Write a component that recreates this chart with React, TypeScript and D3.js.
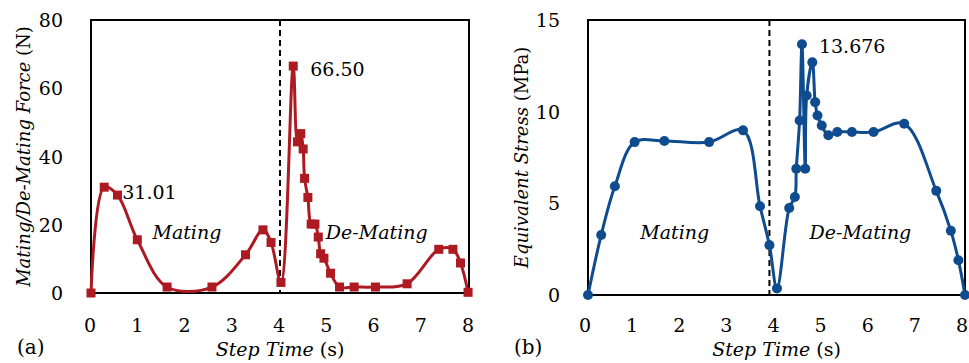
import React from "react";
import * as d3 from "d3";

// ---- Data (a): Mating / De-Mating force (N) vs step time (s)
const forceTime = [0, 0.28, 0.56, 0.98, 1.61, 2.56, 3.27, 3.64, 3.81, 4.02, 4.28, 4.37, 4.44, 4.49, 4.52, 4.59, 4.66, 4.74, 4.81, 4.86, 4.93, 5.07, 5.26, 5.57, 6.02, 6.69, 7.36, 7.66, 7.82, 7.98];
const forceValue = [0, 31.01, 28.7, 15.6, 1.75, 1.75, 11.2, 18.5, 14.8, 3.1, 66.5, 44.3, 46.7, 42.2, 33.6, 28.0, 20.2, 20.2, 16.4, 11.5, 10.2, 5.8, 1.75, 1.75, 1.75, 2.7, 12.8, 12.8, 8.8, 0.2];

// ---- Data (b): Equivalent stress (MPa) vs step time (s)
const stressTime = [0, 0.28, 0.57, 0.99, 1.62, 2.57, 3.29, 3.65, 3.85, 4.01, 4.27, 4.39, 4.42, 4.49, 4.54, 4.61, 4.64, 4.76, 4.82, 4.87, 4.96, 5.1, 5.29, 5.6, 6.06, 6.71, 7.39, 7.7, 7.86, 8.0];
const stressValue = [0, 3.27, 5.93, 8.34, 8.4, 8.34, 8.98, 4.84, 2.72, 0.36, 4.75, 5.35, 6.89, 9.52, 13.676, 6.89, 10.88, 12.69, 10.52, 9.79, 9.25, 8.71, 8.89, 8.89, 8.89, 9.34, 5.68, 3.5, 1.9, 0];

const xTicks = [0, 1, 2, 3, 4, 5, 6, 7, 8];
const forceTicks = [0, 20, 40, 60, 80];
const stressTicks = [0, 5, 10, 15];

const FONT = "DejaVu Serif";
const FS = 19;
const RED = "#ad1a22";
const BLUE = "#0e4b8f";

type PanelProps = {
  left: number;
  right: number;
  top: number;
  bottom: number;
  xs: number[];
  ys: number[];
  yMax: number;
  yTicks: number[];
  color: string;
  marker: "square" | "circle";
  dividerX: number;
  yTitleItalic: string;
  yTitleUnit: string;
  yTitleX: number;
  tickRight: number;
  xTickShift: number;
  panelTag: string;
  tagX: number;
  peakLabel: string;
  peakIndex: number;
  peakDx: number;
  peakDy: number;
  secondLabel?: string;
  secondIndex?: number;
  secondDx?: number;
  secondDy?: number;
  matingX: number;
  deMatingX: number;
  regionY: number;
};

function Panel(p: PanelProps) {
  const x = d3.scaleLinear().domain([0, 8]).range([p.left, p.right]);
  const y = d3.scaleLinear().domain([0, p.yMax]).range([p.bottom, p.top]);
  const pts = p.xs.map((t, i) => [t, p.ys[i]] as [number, number]);
  const line = d3
    .line<[number, number]>()
    .x((d) => x(d[0]))
    .y((d) => y(d[1]))
    .curve(d3.curveCatmullRom.alpha(0.5));
  const mid = (p.top + p.bottom) / 2;
  return (
    <g fontFamily={FONT} fontSize={FS}>
      <rect
        x={p.left}
        y={p.top}
        width={p.right - p.left}
        height={p.bottom - p.top}
        fill="white"
        stroke="black"
        strokeWidth={2}
      />
      <line
        x1={x(p.dividerX)}
        x2={x(p.dividerX)}
        y1={p.top}
        y2={p.bottom}
        stroke="black"
        strokeWidth={2}
        strokeDasharray="6,4"
      />
      <path d={line(pts) || ""} fill="none" stroke={p.color} strokeWidth={3} />
      {pts.map((d, i) =>
        p.marker === "square" ? (
          <rect key={i} x={x(d[0]) - 4.5} y={y(d[1]) - 4.5} width={9} height={9} fill={p.color} />
        ) : (
          <circle key={i} cx={x(d[0])} cy={y(d[1])} r={5} fill={p.color} />
        )
      )}
      {p.yTicks.map((t) => (
        <text key={t} x={p.tickRight} y={y(t) + 7} textAnchor="end">
          {t}
        </text>
      ))}
      {xTicks.map((t) => (
        <text key={t} x={x(t) + p.xTickShift} y={332} textAnchor="middle">
          {t}
        </text>
      ))}
      <text x={(p.left + p.right) / 2} y={356} textAnchor="middle">
        <tspan fontStyle="italic">Step Time</tspan> (s)
      </text>
      <text
        transform={`translate(${p.yTitleX},${mid}) rotate(-90)`}
        textAnchor="middle"
        fontSize={18}
      >
        <tspan fontStyle="italic">{p.yTitleItalic}</tspan> {p.yTitleUnit}
      </text>
      <text x={p.tagX} y={354} fontSize={20}>
        {p.panelTag}
      </text>
      <text x={x(p.xs[p.peakIndex]) + p.peakDx} y={y(p.ys[p.peakIndex]) + p.peakDy}>
        {p.peakLabel}
      </text>
      {p.secondLabel && p.secondIndex !== undefined ? (
        <text
          x={x(p.xs[p.secondIndex]) + (p.secondDx || 0)}
          y={y(p.ys[p.secondIndex]) + (p.secondDy || 0)}
        >
          {p.secondLabel}
        </text>
      ) : null}
      <text x={x(p.matingX)} y={p.regionY} fontStyle="italic">
        Mating
      </text>
      <text x={x(p.deMatingX)} y={p.regionY} fontStyle="italic">
        De-Mating
      </text>
    </g>
  );
}

export default function App() {
  return (
    <svg
      width={969}
      height={363}
      style={{ position: "absolute", left: 0, top: 0, background: "white" }}
    >
      <rect x={0} y={0} width={969} height={363} fill="white" />
      <Panel
        left={91}
        right={469}
        top={20}
        bottom={293}
        xs={forceTime}
        ys={forceValue}
        yMax={80}
        yTicks={forceTicks}
        color={RED}
        marker="square"
        dividerX={4}
        yTitleItalic="Mating/De-Mating Force"
        yTitleUnit="(N)"
        yTitleX={30}
        tickRight={63}
        xTickShift={-1}
        panelTag="(a)"
        tagX={17}
        peakLabel="66.50"
        peakIndex={10}
        peakDx={17}
        peakDy={10}
        secondLabel="31.01"
        secondIndex={1}
        secondDx={18}
        secondDy={12}
        matingX={1.3}
        deMatingX={4.97}
        regionY={239}
      />
      <Panel
        left={588}
        right={965}
        top={20}
        bottom={295}
        xs={stressTime}
        ys={stressValue}
        yMax={15}
        yTicks={stressTicks}
        color={BLUE}
        marker="circle"
        dividerX={3.85}
        yTitleItalic="Equivalent Stress"
        yTitleUnit="(MPa)"
        yTitleX={528}
        tickRight={560}
        xTickShift={-3}
        panelTag="(b)"
        tagX={514}
        peakLabel="13.676"
        peakIndex={14}
        peakDx={17}
        peakDy={9}
        matingX={1.11}
        deMatingX={4.7}
        regionY={239}
      />
    </svg>
  );
}
